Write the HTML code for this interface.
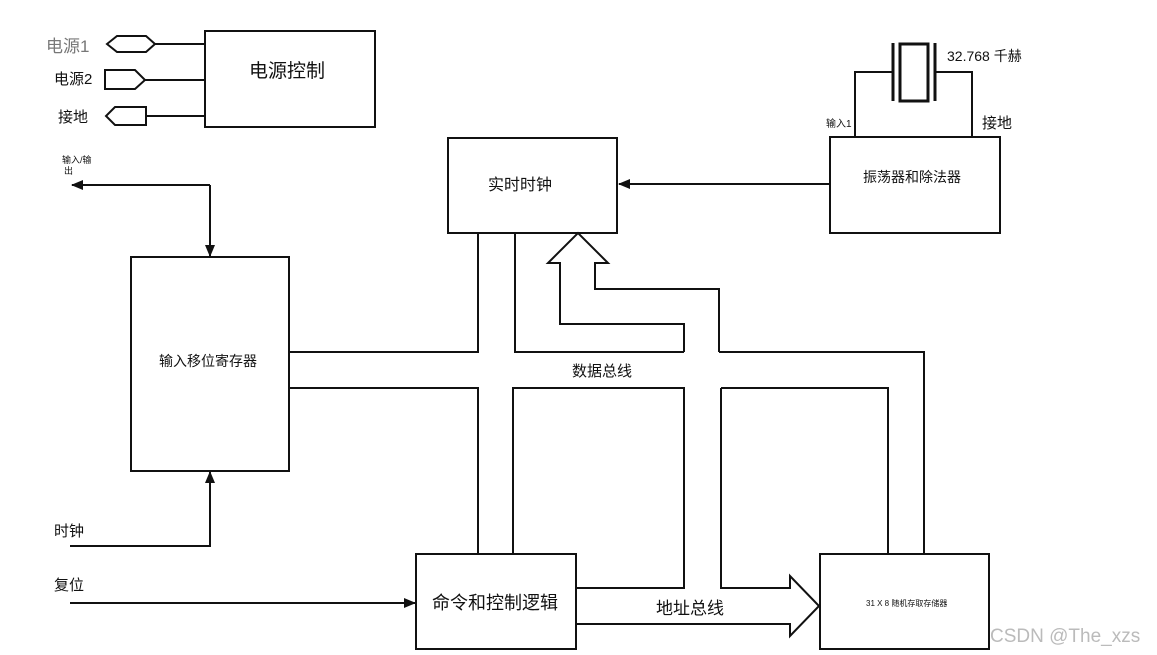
<!DOCTYPE html>
<html><head><meta charset="utf-8"><style>
html,body{margin:0;padding:0;background:#fff;}
svg{display:block;}
text{font-family:"Liberation Sans","Noto Sans CJK SC",sans-serif;fill:#111;}
</style></head><body>
<svg width="1157" height="655" viewBox="0 0 1157 655" xmlns="http://www.w3.org/2000/svg">
<defs>
<marker id="ah" markerWidth="12" markerHeight="10" refX="11" refY="5" orient="auto" markerUnits="userSpaceOnUse">
<path d="M0,0 L12,5 L0,10 z" fill="#111"/></marker>
</defs>
<g fill="none" stroke="#111" stroke-width="2">
<rect x="205" y="31" width="170" height="96"/>
<path d="M107,44 L117,36 L146,36 L155,44 L146,52 L117,52 z"/>
<line x1="155" y1="44" x2="205" y2="44"/>
<path d="M105,70 L135,70 L145,80 L135,89 L105,89 z"/>
<line x1="145" y1="80" x2="205" y2="80"/>
<path d="M146,107 L115,107 L106,116 L115,125 L146,125 z"/>
<line x1="146" y1="116" x2="205" y2="116"/>
<rect x="448" y="138" width="169" height="95"/>
<rect x="830" y="137" width="170" height="96"/>
<rect x="131" y="257" width="158" height="214"/>
<rect x="416" y="554" width="160" height="95"/>
<rect x="820" y="554" width="169" height="95"/>
<line x1="893" y1="43" x2="893" y2="101" stroke-width="3"/>
<line x1="935" y1="43" x2="935" y2="101" stroke-width="3"/>
<rect x="900" y="44" width="28" height="57" stroke-width="3"/>
<path d="M893,72 L855,72 L855,137"/>
<path d="M935,72 L972,72 L972,137"/>
<line x1="830" y1="184" x2="619" y2="184" marker-end="url(#ah)"/>
<line x1="210" y1="185" x2="72" y2="185" marker-end="url(#ah)"/>
<line x1="210" y1="185" x2="210" y2="256" marker-end="url(#ah)"/>
<path d="M70,546 L210,546 L210,472" marker-end="url(#ah)"/>
<line x1="70" y1="603" x2="415" y2="603" marker-end="url(#ah)"/>
<path d="M289,352 L478,352 L478,233"/>
<path d="M515,233 L515,352 L684,352"/>
<path d="M719,352 L924,352 L924,554"/>
<path d="M289,388 L478,388 L478,554"/>
<path d="M513,554 L513,388 L684,388 L684,588 L576,588"/>
<path d="M721,388 L888,388 L888,554"/>
<path d="M684,352 L684,324 L560,324 L560,263 L548,263 L578,233 L608,263 L595,263 L595,289 L719,289 L719,352"/>
<path d="M721,388 L721,588 L790,588 L790,576 L819,606 L790,636 L790,624 L576,624"/>
</g>
<text x="46" y="52" font-size="17" style="fill:#777">电源1</text>
<text x="54" y="84" font-size="15">电源2</text>
<text x="58" y="122" font-size="15">接地</text>
<text x="249" y="77" font-size="19">电源控制</text>
<text x="62" y="163" font-size="9">输入/输</text>
<text x="64" y="174" font-size="9">出</text>
<text x="488" y="190" font-size="16">实时时钟</text>
<text x="947" y="61" font-size="14">32.768 千赫</text>
<text x="826" y="127" font-size="10">输入1</text>
<text x="982" y="128" font-size="15">接地</text>
<text x="863" y="182" font-size="14">振荡器和除法器</text>
<text x="159" y="366" font-size="14">输入移位寄存器</text>
<text x="572" y="376" font-size="15">数据总线</text>
<text x="54" y="536" font-size="15">时钟</text>
<text x="54" y="590" font-size="15">复位</text>
<text x="432" y="609" font-size="18">命令和控制逻辑</text>
<text x="656" y="614" font-size="17">地址总线</text>
<text x="866" y="606" font-size="8">31 X 8 随机存取存储器</text>
<text x="990" y="642" font-size="19" style="fill:#bbb">CSDN @The_xzs</text>
</svg>
</body></html>
